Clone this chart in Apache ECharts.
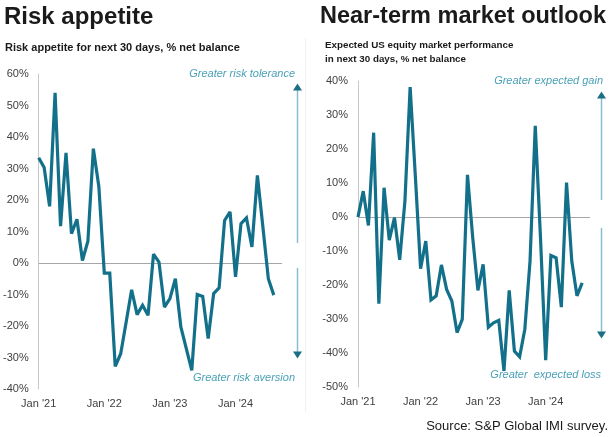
<!DOCTYPE html>
<html>
<head>
<meta charset="utf-8">
<script src="https://cdn.jsdelivr.net/npm/echarts@6/dist/echarts.min.js"></script>
<style>
html,body{margin:0;padding:0;background:#fff;}
#chart{width:614px;height:437px;}
</style>
</head>
<body>
<div id="chart"></div>
<script>
// Months: Jan 2021 .. Aug 2024
const months = ["Jan '21","Feb '21","Mar '21","Apr '21","May '21","Jun '21","Jul '21","Aug '21","Sep '21","Oct '21","Nov '21","Dec '21",
  "Jan '22","Feb '22","Mar '22","Apr '22","May '22","Jun '22","Jul '22","Aug '22","Sep '22","Oct '22","Nov '22","Dec '22",
  "Jan '23","Feb '23","Mar '23","Apr '23","May '23","Jun '23","Jul '23","Aug '23","Sep '23","Oct '23","Nov '23","Dec '23",
  "Jan '24","Feb '24","Mar '24","Apr '24","May '24","Jun '24","Jul '24","Aug '24"];
const xTickLabels = ["Jan '21","Jan '22","Jan '23","Jan '24"];

// Risk appetite for next 30 days, % net balance
const riskAppetite = [33.4,30.3,18,54,11.7,35,9.3,13.9,0.8,6.9,36.3,24.3,
  -3.2,-3.2,-32.8,-28.8,-18.7,-8.5,-16.4,-13.4,-16.6,2.8,0.3,-14,
  -11.3,-5,-20.3,-27.2,-34.1,-10,-10.6,-24,-9.7,-7.9,13.5,16.2,
  -4.4,12.5,14.3,5.1,27.8,11.5,-5,-10.2];

// Expected US equity market performance in next 30 days, % net balance
const marketOutlook = [0,7.6,-2.5,24.8,-25.5,8.6,-6.8,-0.2,-12.6,4.7,38.2,12,
  -15.2,-7.1,-24.4,-23.2,-14.1,-21.3,-24.7,-34,-30.1,12.4,-6,-21.6,
  -13.9,-32.4,-31.1,-30.4,-45.3,-21.6,-39.4,-41.1,-33,-12.9,26.8,-6,
  -42.1,-11.3,-12,-26.5,10.1,-12.9,-23.2,-19.4];

const leftYTicks = {min:-40, max:60, interval:10};
const rightYTicks = {min:-50, max:40, interval:10};

const LINE = '#13708a';
const ANNO = '#4aa0b6';
const ARROW_LINE = '#86bfcf';
const AXIS_TXT = '#404040';
const FONT = '"Liberation Sans", Arial, sans-serif';

function xAxisCfg(gi){
  return {
    type:'value', gridIndex:gi, min:0, max:months.length + 0.5, interval:12,
    axisLine:{show:false}, axisTick:{show:false}, splitLine:{show:false},
    axisLabel:{
      margin:9, color:AXIS_TXT, fontSize:11, fontFamily:FONT,
      showMaxLabel:false,
      formatter:function(v){ const k=Math.round(v/12); return (v%12===0 && xTickLabels[k]) ? xTickLabels[k] : ''; }
    }
  };
}
function yAxisCfg(gi, t){
  return {
    type:'value', gridIndex:gi, min:t.min, max:t.max, interval:t.interval,
    axisLine:{show:true, lineStyle:{color:'#c8c8c8', width:1}},
    axisTick:{show:false}, splitLine:{show:false},
    axisLabel:{margin:10, color:AXIS_TXT, fontSize:11, fontFamily:FONT, formatter:'{value}%'}
  };
}
function seriesCfg(gi, vals){
  return {
    type:'line', xAxisIndex:gi, yAxisIndex:gi,
    data: vals.map((v,i)=>[i,v]),
    showSymbol:false, symbol:'none',
    lineStyle:{color:LINE, width:3.2, join:'miter', miterLimit:2.5},
    z:3,
    markLine:{
      silent:true, symbol:['none','none'], label:{show:false},
      lineStyle:{color:'#a6a6a6', width:1, type:'solid'},
      data:[{yAxis:0}], z:1
    }
  };
}

function arrow(x, top1, bot1, top2, bot2){
  return [
    {type:'line', shape:{x1:x,y1:top1+6,x2:x,y2:bot1}, style:{stroke:ARROW_LINE, lineWidth:1.5}},
    {type:'polygon', shape:{points:[[x,top1],[x-4.5,top1+7],[x+4.5,top1+7]]}, style:{fill:'#1a6e85'}},
    {type:'line', shape:{x1:x,y1:top2,x2:x,y2:bot2-6}, style:{stroke:ARROW_LINE, lineWidth:1.5}},
    {type:'polygon', shape:{points:[[x,bot2],[x-4.5,bot2-7],[x+4.5,bot2-7]]}, style:{fill:'#1a6e85'}}
  ];
}
function anno(text, xr, yc){
  return {type:'text', x:xr, y:yc, style:{text:text, fill:ANNO, font:'italic 11px '+FONT, textAlign:'right', textVerticalAlign:'middle'}};
}

const chart = echarts.init(document.getElementById('chart'), null, {renderer:'canvas'});
chart.setOption({
  backgroundColor:'#ffffff',
  animation:false,
  title:[
    {text:'Risk appetite', left:4, top:5, padding:0, textStyle:{fontSize:24, fontWeight:'bold', color:'#1a1a1a', fontFamily:FONT}},
    {text:'Near-term market outlook', left:320, top:5, padding:0, textStyle:{fontSize:23.5, fontWeight:'bold', color:'#1a1a1a', fontFamily:FONT}},
    {text:'Risk appetite for next 30 days, % net balance', left:5, top:42, padding:0, textStyle:{fontSize:11, fontWeight:'bold', color:'#1a1a1a', fontFamily:FONT}},
    {text:'Expected US equity market performance\nin next 30 days, % net balance', left:325, top:39, padding:0, textStyle:{fontSize:9.8, fontWeight:'bold', color:'#1a1a1a', fontFamily:FONT, lineHeight:13.5}},
    {text:'Source: S&P Global IMI survey.', right:6, top:420, padding:0, textStyle:{fontSize:13, fontWeight:'normal', color:'#1a1a1a', fontFamily:FONT}}
  ],
  grid:[
    {left:38, top:74, width:244, height:315},
    {left:358, top:81, width:232, height:306}
  ],
  xAxis:[xAxisCfg(0), xAxisCfg(1)],
  yAxis:[yAxisCfg(0,leftYTicks), yAxisCfg(1,rightYTicks)],
  series:[seriesCfg(0, riskAppetite), seriesCfg(1, marketOutlook)],
  graphic:[
    {type:'line', shape:{x1:305.5,y1:38,x2:305.5,y2:412}, style:{stroke:'#f0f0f0', lineWidth:1}},
    ...arrow(297.5, 83.5, 243, 268, 358.5),
    ...arrow(601.5, 91.5, 200, 228, 338.5),
    anno('Greater risk tolerance', 295, 74),
    anno('Greater risk aversion', 295, 377.5),
    anno('Greater expected gain', 603, 81),
    anno('Greater  expected loss', 601, 375)
  ]
});
</script>
</body>
</html>
